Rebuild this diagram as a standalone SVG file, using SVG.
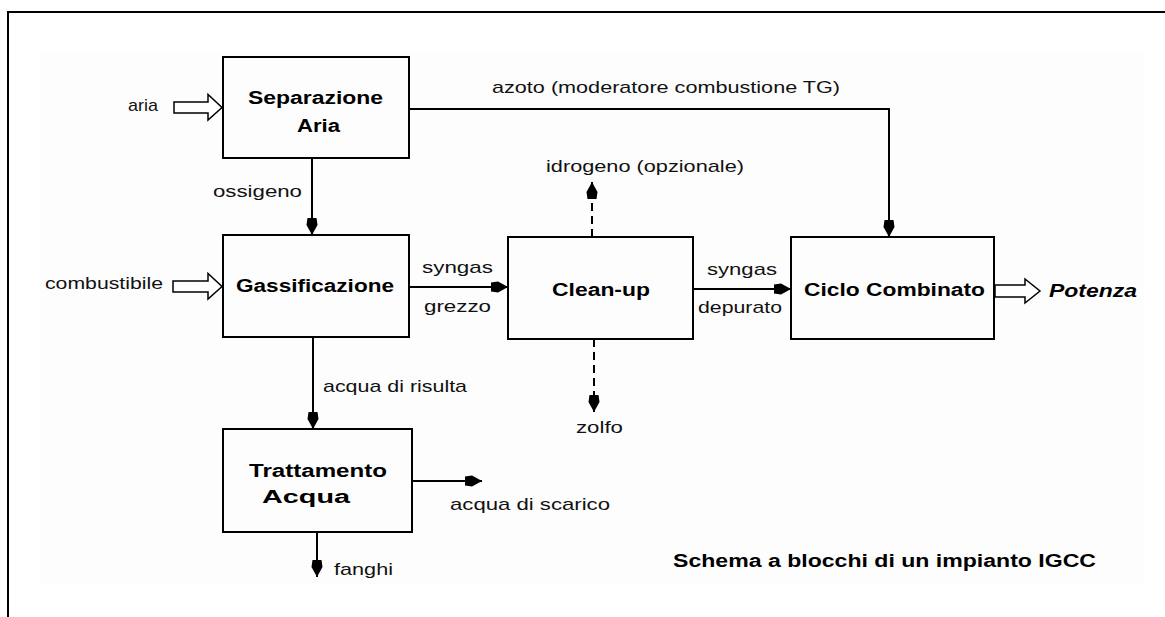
<svg xmlns="http://www.w3.org/2000/svg" width="1165" height="617" viewBox="0 0 1165 617">
  <style>
    .box { fill: none; stroke: #000; stroke-width: 2; }
    .lbl { font-family: "Liberation Sans", Arial, sans-serif; font-size: 17px; fill: #111; }
    .ttl { font-family: "Liberation Sans", Arial, sans-serif; font-size: 18px; font-weight: bold; fill: #000; }
    .wire { fill: none; stroke: #000; stroke-width: 2; marker-end: url(#head); }
    .dash { stroke-dasharray: 8 5; }
    .hollow { fill: #fff; stroke: #000; stroke-width: 1.5; }
  </style>
  <defs>
    <marker id="head" viewBox="-18 -6 19 12" refX="0" refY="0" markerWidth="19" markerHeight="12" markerUnits="userSpaceOnUse" orient="auto">
      <path d="M0,0 L-10,-5.5 L-17,-4.5 L-17,4.5 L-10,5.5 Z" fill="#000"/>
    </marker>
  </defs>

  <rect width="1165" height="617" fill="#fff"/>
  <rect x="40" y="52" width="1103" height="533" fill="#fdfdfd"/>
  <!-- page frame -->
  <path d="M8,617 V12 H1165" fill="none" stroke="#000" stroke-width="2"/>

  <!-- connectors -->
  <g id="connectors">
    <path class="wire" d="M312,158 V235"/>
    <path class="wire" d="M409,109 H889 V237"/>
    <path class="wire" d="M409,287 H508"/>
    <path class="wire" d="M693,289 H791"/>
    <path class="wire dash" d="M592,237 V182"/>
    <path class="wire dash" d="M594,339 V412"/>
    <path class="wire" d="M313,337 V429"/>
    <path class="wire" d="M412,481 H482"/>
    <path class="wire" d="M317,532 V577"/>
    <!-- hollow flow arrows -->
    <path class="hollow" d="M174,102 H208 V94.5 L222,107.5 L208,120 V113 H174 Z"/>
    <path class="hollow" d="M173,281 H208 V273.5 L222,286.5 L208,299 V292 H173 Z"/>
    <path class="hollow" d="M995,285 H1025 V279 L1040,291 L1025,303 V297 H995 Z"/>
  </g>

  <!-- connector labels -->
  <g id="labels">
    <text class="lbl" x="128" y="111" textLength="30" lengthAdjust="spacingAndGlyphs">aria</text>
    <text class="lbl" x="213" y="197" textLength="89" lengthAdjust="spacingAndGlyphs">ossigeno</text>
    <text class="lbl" x="45" y="289" textLength="118" lengthAdjust="spacingAndGlyphs">combustibile</text>
    <text class="lbl" x="422" y="273" textLength="71" lengthAdjust="spacingAndGlyphs">syngas</text>
    <text class="lbl" x="424" y="312" textLength="67" lengthAdjust="spacingAndGlyphs">grezzo</text>
    <text class="lbl" x="707" y="275" textLength="70" lengthAdjust="spacingAndGlyphs">syngas</text>
    <text class="lbl" x="698" y="313" textLength="84" lengthAdjust="spacingAndGlyphs">depurato</text>
    <text class="lbl" x="492" y="93" textLength="348" lengthAdjust="spacingAndGlyphs">azoto (moderatore combustione TG)</text>
    <text class="lbl" x="546" y="172" textLength="198" lengthAdjust="spacingAndGlyphs">idrogeno (opzionale)</text>
    <text class="lbl" x="323" y="392" textLength="144" lengthAdjust="spacingAndGlyphs">acqua di risulta</text>
    <text class="lbl" x="576" y="433" textLength="47" lengthAdjust="spacingAndGlyphs">zolfo</text>
    <text class="lbl" x="450" y="510" textLength="160" lengthAdjust="spacingAndGlyphs">acqua di scarico</text>
    <text class="lbl" x="334" y="575" textLength="59" lengthAdjust="spacingAndGlyphs">fanghi</text>
    <text class="ttl" x="1049" y="297" font-style="italic" textLength="88" lengthAdjust="spacingAndGlyphs">Potenza</text>
  </g>

  <!-- process blocks -->
  <g id="separazione-aria">
    <rect class="box" x="223" y="57" width="186" height="101"/>
    <text class="ttl" x="248" y="104" textLength="135" lengthAdjust="spacingAndGlyphs">Separazione</text>
    <text class="ttl" x="297" y="132" textLength="43" lengthAdjust="spacingAndGlyphs">Aria</text>
  </g>
  <g id="gassificazione">
    <rect class="box" x="223" y="235" width="186" height="102"/>
    <text class="ttl" x="236" y="292" textLength="158" lengthAdjust="spacingAndGlyphs">Gassificazione</text>
  </g>
  <g id="clean-up">
    <rect class="box" x="508" y="237" width="185" height="102"/>
    <text class="ttl" x="552" y="296" textLength="98" lengthAdjust="spacingAndGlyphs">Clean-up</text>
  </g>
  <g id="ciclo-combinato">
    <rect class="box" x="791" y="237" width="203" height="102"/>
    <text class="ttl" x="804" y="296" textLength="181" lengthAdjust="spacingAndGlyphs">Ciclo Combinato</text>
  </g>
  <g id="trattamento-acqua">
    <rect class="box" x="223" y="429" width="189" height="103"/>
    <text class="ttl" x="249" y="477" textLength="138" lengthAdjust="spacingAndGlyphs">Trattamento</text>
    <text class="ttl" x="262" y="503" textLength="88" lengthAdjust="spacingAndGlyphs">Acqua</text>
  </g>

  <g id="caption">
    <text class="ttl" x="673" y="567" font-size="19" textLength="423" lengthAdjust="spacingAndGlyphs">Schema a blocchi di un impianto IGCC</text>
  </g>
</svg>
